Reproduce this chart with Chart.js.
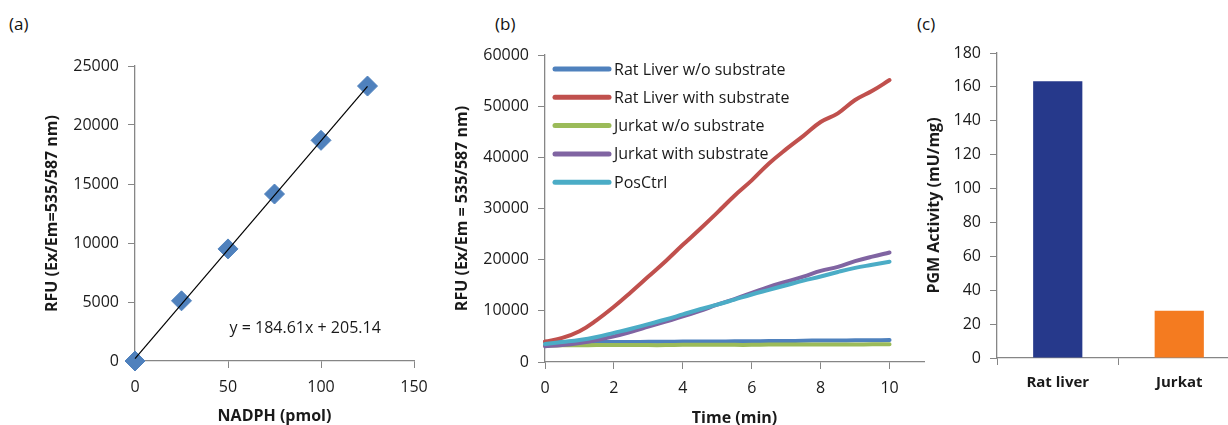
<!DOCTYPE html>
<html>
<head>
<meta charset="utf-8">
<script src="https://cdn.jsdelivr.net/npm/chart.js@4.4.1/dist/chart.umd.min.js"></script>
<style>
  html, body { margin: 0; padding: 0; background: #fff; }
  body { width: 1228px; height: 425px; position: relative; overflow: hidden; }
  .panel { position: absolute; top: 0; }
  .tag { position: absolute; top: 12px; font: 17px 'Open Sans', sans-serif; color: #111; }
</style>
</head>
<body>
<div class="tag" style="left:9px">(a)</div>
<div class="tag" style="left:495px">(b)</div>
<div class="tag" style="left:917px">(c)</div>
<canvas id="chartA" class="panel" style="left:0px" width="440" height="440"></canvas>
<canvas id="chartB" class="panel" style="left:445px" width="490" height="440"></canvas>
<canvas id="chartC" class="panel" style="left:900px" width="340" height="440"></canvas>
<script>
// (a) NADPH standard curve
const nadphPmol = [0, 25, 50, 75, 100, 125];
const nadphRfu = [0, 5100, 9500, 14150, 18700, 23300];
const fitSlope = 184.61;
const fitIntercept = 205.14;

// (b) kinetic reads
const timeMin = [0, 0.5, 1, 1.5, 2, 2.5, 3, 3.5, 4, 4.5, 5, 5.5, 6, 6.5, 7, 7.5, 8, 8.5, 9, 9.5, 10];
const ratLiverNoSub = [3900, 3900, 3900, 3900, 3900, 3900, 3950, 3950, 4000, 4000, 4000, 4050, 4050, 4100, 4100, 4150, 4200, 4200, 4250, 4250, 4300];
const ratLiverSub = [4000, 4700, 6000, 8200, 10800, 13700, 16700, 19700, 22900, 26000, 29200, 32500, 35500, 38800, 41600, 44200, 46900, 48600, 51200, 53000, 55100];
const jurkatNoSub = [3200, 3250, 3250, 3300, 3300, 3300, 3300, 3300, 3350, 3350, 3350, 3350, 3350, 3400, 3400, 3400, 3400, 3400, 3400, 3450, 3450];
const jurkatSub = [3100, 3300, 3700, 4300, 5000, 5900, 6900, 7900, 8900, 10000, 11200, 12300, 13500, 14700, 15700, 16700, 17800, 18600, 19700, 20600, 21400];
const posCtrl = [3500, 3900, 4300, 4900, 5700, 6500, 7400, 8300, 9300, 10300, 11200, 12200, 13200, 14100, 15000, 15900, 16700, 17600, 18400, 19000, 19600];
const seriesNames = ['Rat Liver w/o substrate', 'Rat Liver with substrate', 'Jurkat w/o substrate', 'Jurkat with substrate', 'PosCtrl'];

// (c) activity
const samples = ['Rat liver', 'Jurkat'];
const pgmActivity = [163.3, 27.9];

const FONT = "'Open Sans', sans-serif";
const AXIS_GRAY = '#868686';
const TXT = '#1a1a1a';

function tickOpts(step, pad) {
  return { stepSize: step, includeBounds: false, font: { family: FONT, size: 16 }, color: TXT, padding: pad, callback: v => String(v) };
}

function axis(opts) {
  return {
    type: 'linear',
    grid: { display: true, drawOnChartArea: false, drawTicks: true, tickLength: 7, color: AXIS_GRAY, lineWidth: 1 },
    border: { display: true, color: AXIS_GRAY, width: 1.3 },
    ...opts
  };
}

function titleOf(text, pad) {
  return { display: true, text: text, color: TXT, font: { family: FONT, size: 16, weight: 'bold' }, padding: pad };
}

const common = {
  responsive: false,
  animation: false,
  plugins: { legend: { display: false }, tooltip: { enabled: false } }
};

// equation label for panel (a), anchored in data units
const eqText = 'y = 184.61x + 205.14';
const eqAt = [91.5, 2800];
const eqPlugin = {
  id: 'eqLabel',
  afterDatasetsDraw(chart) {
    const { ctx, scales: { x, y } } = chart;
    ctx.save();
    ctx.font = '16px ' + FONT;
    ctx.fillStyle = TXT;
    ctx.textAlign = 'center';
    ctx.textBaseline = 'middle';
    ctx.fillText(eqText, x.getPixelForValue(eqAt[0]), y.getPixelForValue(eqAt[1]));
    ctx.restore();
  }
};

new Chart(document.getElementById('chartA'), {
  type: 'scatter',
  data: {
    datasets: [
      {
        type: 'line',
        data: [0, nadphPmol[nadphPmol.length - 1]].map(v => ({ x: v, y: fitSlope * v + fitIntercept })),
        borderColor: '#000', borderWidth: 1.2, pointRadius: 0, fill: false, order: 0, clip: false
      },
      {
        data: nadphPmol.map((v, i) => ({ x: v, y: nadphRfu[i] })),
        pointStyle: 'rectRot', pointRadius: 10, backgroundColor: '#4F81BD', borderColor: '#4F81BD', order: 1, clip: false
      }
    ]
  },
  options: {
    ...common,
    layout: { padding: { top: 66, right: 26, left: 0, bottom: 0 } },
    scales: {
      x: axis({ min: 0, max: 150, ticks: tickOpts(50, 10),
        title: titleOf('NADPH (pmol)', { top: 0, bottom: 14 }),
        afterFit: s => { s.height = 79; } }),
      y: axis({ min: 0, max: 25000, ticks: tickOpts(5000, 9),
        title: titleOf('RFU (Ex/Em=535/587 nm)', { top: 43, bottom: 0 }),
        afterFit: s => { s.width = 135; } })
    }
  },
  plugins: [eqPlugin]
});

// legend drawn inside the plot area of panel (b)
const insideLegend = {
  id: 'insideLegend',
  afterDraw(chart) {
    const { ctx, chartArea } = chart;
    ctx.save();
    ctx.font = '16px ' + FONT;
    ctx.textBaseline = 'middle';
    ctx.lineCap = 'round';
    chart.data.datasets.forEach((ds, i) => {
      const y = chartArea.top + 14 + i * 28.3;
      const x0 = chartArea.left + 10;
      ctx.strokeStyle = ds.borderColor;
      ctx.lineWidth = 5;
      ctx.beginPath();
      ctx.moveTo(x0, y);
      ctx.lineTo(x0 + 54, y);
      ctx.stroke();
      ctx.fillStyle = TXT;
      ctx.fillText(ds.label, x0 + 59, y + 1);
    });
    ctx.restore();
  }
};

const lineColors = ['#4F81BD', '#C0504D', '#9BBB59', '#8064A2', '#4BACC6'];
const lineSeries = [ratLiverNoSub, ratLiverSub, jurkatNoSub, jurkatSub, posCtrl];

new Chart(document.getElementById('chartB'), {
  type: 'line',
  data: {
    datasets: lineSeries.map((vals, i) => ({
      label: seriesNames[i],
      data: timeMin.map((t, j) => ({ x: t, y: vals[j] })),
      borderColor: lineColors[i],
      borderWidth: 4,
      borderCapStyle: 'round',
      borderJoinStyle: 'round',
      pointRadius: 0,
      tension: 0.4,
      fill: false,
      clip: false,
      order: -i
    }))
  },
  options: {
    ...common,
    layout: { padding: { top: 55, right: 11, left: 0, bottom: 0 } },
    scales: {
      x: axis({ min: 0, max: 11, ticks: tickOpts(2, 10),
        title: titleOf('Time (min)', { top: 0, bottom: 12 }),
        afterFit: s => { s.height = 78; } }),
      y: axis({ min: 0, max: 60000, ticks: tickOpts(10000, 9),
        title: titleOf('RFU (Ex/Em = 535/587 nm)', { top: 8, bottom: 0 }),
        afterFit: s => { s.width = 100; } })
    }
  },
  plugins: [insideLegend]
});

new Chart(document.getElementById('chartC'), {
  type: 'bar',
  data: {
    labels: samples,
    datasets: [{
      data: pgmActivity,
      backgroundColor: ['#26398B', '#F47B20'],
      barPercentage: 0.405,
      categoryPercentage: 1
    }]
  },
  options: {
    ...common,
    layout: { padding: { top: 53, right: 0, left: 0, bottom: 0 } },
    scales: {
      x: {
        type: 'category',
        grid: { display: true, drawOnChartArea: false, drawTicks: true, tickLength: 7, color: AXIS_GRAY, offset: true },
        border: { display: true, color: AXIS_GRAY, width: 1.3 },
        ticks: { font: { family: FONT, size: 15, weight: 'bold' }, color: TXT, padding: 9 },
        afterFit: s => { s.height = 82; }
      },
      y: axis({ min: 0, max: 180, ticks: tickOpts(20, 9),
        title: titleOf('PGM Activity (mU/mg)', { top: 25, bottom: 0 }),
        afterFit: s => { s.width = 97; } })
    }
  }
});
</script>
</body>
</html>
